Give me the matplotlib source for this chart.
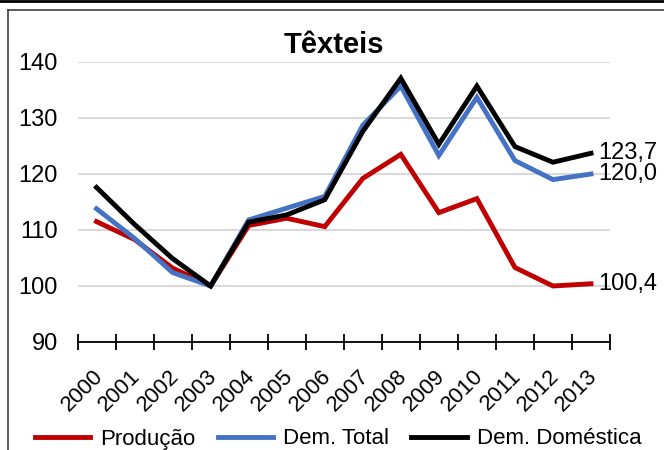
import matplotlib
matplotlib.use("Agg")
import matplotlib.pyplot as plt
import matplotlib.transforms as mtransforms
from matplotlib.lines import Line2D
import numpy as np

plt.rcParams['font.family'] = ['Liberation Sans', 'DejaVu Sans']

# dados
anos = ["2000", "2001", "2002", "2003", "2004", "2005", "2006",
        "2007", "2008", "2009", "2010", "2011", "2012", "2013"]
producao = [111.5, 108.3, 103.2, 100.0, 110.8, 112.1, 110.6,
            119.2, 123.5, 113.1, 115.6, 103.3, 100.0, 100.4]
dem_total = [113.8, 108.5, 102.4, 100.0, 111.8, 113.9, 116.0,
             128.7, 135.7, 123.3, 133.7, 122.4, 119.0, 120.0]
dem_domestica = [117.6, 111.0, 104.9, 100.0, 111.4, 112.7, 115.4,
                 127.6, 137.1, 125.3, 135.7, 124.9, 122.1, 123.7]
series = ["Produção", "Dem. Total", "Dem. Doméstica"]
cores = ["#C00000", "#4472C4", "#000000"]

W, H = 664, 450
fig = plt.figure(figsize=(W / 100, H / 100), dpi=100)
ax = fig.add_axes([77.5 / W, 1 - 342 / H, (610 - 77.5) / W, (342 - 62) / H])

x = np.arange(len(anos))
for vals, nome, cor in zip([producao, dem_total, dem_domestica], series, cores):
    ax.plot(x, vals, color=cor, lw=3.5, label=nome, solid_joinstyle='miter')
    ax.text(x[-1] + 0.2, vals[-1], f"{vals[-1]:.1f}".replace(".", ","),
            fontsize=17, va='center', ha='left', color='black')

ax.set_xlim(-0.5, len(anos) - 0.5)
ax.set_ylim(90, 140)
ax.set_yticks(range(90, 141, 10))
ax.yaxis.grid(True, color='#d9d9d9', lw=1.5)
ax.set_axisbelow(True)

# anos rodados a 45 graus, deslocados como no excel
ax.set_xticks(x)
ax.set_xticklabels([])
desloc = mtransforms.ScaledTranslation(3 / 100, -31 / 100, fig.dpi_scale_trans)
trans = ax.get_xaxis_transform() + desloc
for i, ano in enumerate(anos):
    ax.text(x[i], 0, ano, transform=trans, rotation=45, fontsize=16,
            ha='right', va='center', rotation_mode='anchor')

ax.set_xticks(np.arange(-0.5, len(anos), 1), minor=True)
ax.tick_params(axis='x', which='major', length=0)
ax.tick_params(axis='x', which='minor', length=12, direction='inout', width=1.3)
ax.tick_params(axis='y', length=0, labelsize=17, pad=14)

for s in ['top', 'right', 'left']:
    ax.spines[s].set_visible(False)
ax.spines['bottom'].set_linewidth(1.3)

fig.text(334 / W, 1 - 45 / H, "Têxteis", fontsize=21, fontweight='bold',
         ha='center', va='center')

fig.legend(loc='center', bbox_to_anchor=(338 / W, 1 - 439 / H), ncol=3,
           frameon=False, fontsize=16, handlelength=2.5, handletextpad=0.45,
           columnspacing=1.0)

# moldura (cortada a direita e em baixo)
fig.add_artist(Line2D([0, 1], [1 - 1 / H, 1 - 1 / H], color='black', lw=2,
                      transform=fig.transFigure))
fig.add_artist(Line2D([8 / W, 1], [1 - 9.5 / H, 1 - 9.5 / H], color='#404040',
                      lw=1.2, transform=fig.transFigure))
fig.add_artist(Line2D([8 / W, 8 / W], [1 - 9.5 / H, 0], color='#404040',
                      lw=1.2, transform=fig.transFigure))

fig.savefig("out.png", dpi=100)
